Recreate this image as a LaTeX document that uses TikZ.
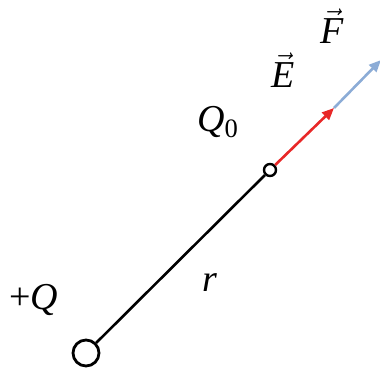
\documentclass[tikz,border=0pt]{standalone}
\usepackage{fontspec}
\setmainfont{Liberation Serif}
\usepackage{amsmath}
\usetikzlibrary{arrows.meta}
\definecolor{fblue}{RGB}{140,172,214}
\definecolor{ered}{RGB}{232,40,40}
\begin{document}
\begin{tikzpicture}[x=0.5pt,y=-0.5pt,
  charge/.style={draw=black,line width=1.4pt,circle,inner sep=0pt,fill=white},
  lbl/.style={font=\fontsize{19}{22}\selectfont,inner sep=0pt},
  rod/.style={line width=1.3pt,black},
  efield/.style={line width=1.3pt,ered,-{Triangle[length=6pt,width=5pt]}},
  ffield/.style={line width=1.3pt,fblue,-{Triangle[length=6pt,width=5pt]}}]
\useasboundingbox (0,0) rectangle (380,375);
\coordinate (etip) at (334,108);
\coordinate (ftip) at (381,60);
\draw[ffield] (etip) -- (ftip);
\node[charge,minimum size=13pt] (Q) at (86,353) {};
\node[charge,minimum size=6pt,line width=1.2pt] (q0) at (270,170) {};
\draw[rod] (Q) -- (q0);
\draw[efield] (q0) -- (etip);
\node[lbl] (lQ) at (34,300) {+\textit{Q}};
\node[lbl] (lq0) at (218,122) {\textit{Q}\textsubscript{0}};
\node[lbl] (lr) at (210,283) {\textit{r}};
\node[lbl] (lE) at (283,70) {$\vec{\textit{E}}$};
\node[lbl] (lF) at (332,26) {$\vec{\textit{F}}$};
\end{tikzpicture}
\end{document}
